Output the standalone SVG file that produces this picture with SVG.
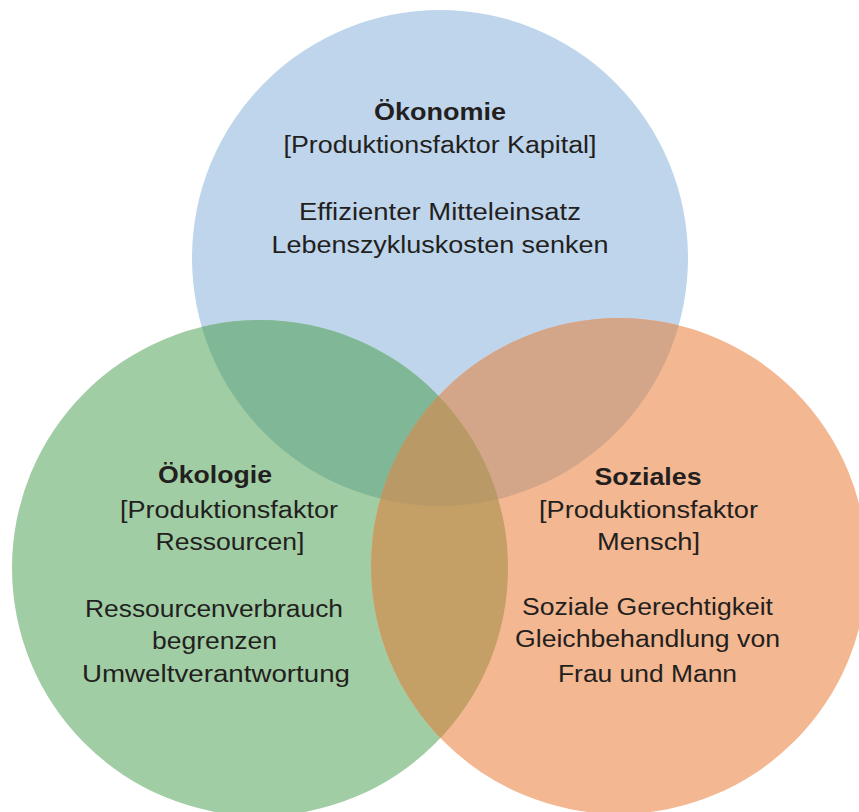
<svg xmlns="http://www.w3.org/2000/svg" width="859" height="812" viewBox="0 0 859 812">
<style>
text{font-family:"Liberation Sans",Arial,sans-serif;font-size:23px;fill:#231f20;text-anchor:middle}
.t{font-weight:bold;font-size:24px}
</style>
<defs>
<clipPath id="cB"><circle cx="440" cy="258" r="248"/></clipPath>
<clipPath id="cG"><circle cx="260" cy="568" r="248"/></clipPath>
<clipPath id="cO"><circle cx="619" cy="566" r="248"/></clipPath>
</defs>
<rect width="859" height="812" fill="#fff"/>
<g id="shapes">
<circle cx="440" cy="258" r="248" fill="#bed5ec"/>
<circle cx="260" cy="568" r="248" fill="#a1cda4"/>
<circle cx="619" cy="566" r="248" fill="#f3b791"/>
<circle cx="260" cy="568" r="248" fill="#80b797" clip-path="url(#cB)"/>
<circle cx="619" cy="566" r="248" fill="#d3a589" clip-path="url(#cB)"/>
<circle cx="619" cy="566" r="248" fill="#c49f66" clip-path="url(#cG)"/>
<g clip-path="url(#cB)"><circle cx="619" cy="566" r="248" fill="#b99a66" clip-path="url(#cG)"/></g>
</g>
<g id="oekonomie">
<text class="t" x="440" y="120" textLength="132" lengthAdjust="spacingAndGlyphs">Ökonomie</text>
<text x="440" y="153" textLength="313" lengthAdjust="spacingAndGlyphs">[Produktionsfaktor Kapital]</text>
<text x="440" y="220" textLength="282" lengthAdjust="spacingAndGlyphs">Effizienter Mitteleinsatz</text>
<text x="440" y="253" textLength="337" lengthAdjust="spacingAndGlyphs">Lebenszykluskosten senken</text>
</g>
<g id="oekologie">
<text class="t" x="215" y="483" textLength="114" lengthAdjust="spacingAndGlyphs">Ökologie</text>
<text x="229" y="518" textLength="218" lengthAdjust="spacingAndGlyphs">[Produktionsfaktor</text>
<text x="230" y="550" textLength="149" lengthAdjust="spacingAndGlyphs">Ressourcen]</text>
<text x="214" y="617" textLength="258" lengthAdjust="spacingAndGlyphs">Ressourcenverbrauch</text>
<text x="214.5" y="649" textLength="125" lengthAdjust="spacingAndGlyphs">begrenzen</text>
<text x="216" y="682" textLength="268" lengthAdjust="spacingAndGlyphs">Umweltverantwortung</text>
</g>
<g id="soziales">
<text class="t" x="648" y="485" textLength="107" lengthAdjust="spacingAndGlyphs">Soziales</text>
<text x="648.5" y="518" textLength="219" lengthAdjust="spacingAndGlyphs">[Produktionsfaktor</text>
<text x="648.5" y="550" textLength="103" lengthAdjust="spacingAndGlyphs">Mensch]</text>
<text x="647.5" y="615" textLength="251" lengthAdjust="spacingAndGlyphs">Soziale Gerechtigkeit</text>
<text x="647.5" y="647" textLength="265" lengthAdjust="spacingAndGlyphs">Gleichbehandlung von</text>
<text x="647.5" y="682" textLength="179" lengthAdjust="spacingAndGlyphs">Frau und Mann</text>
</g>
</svg>
